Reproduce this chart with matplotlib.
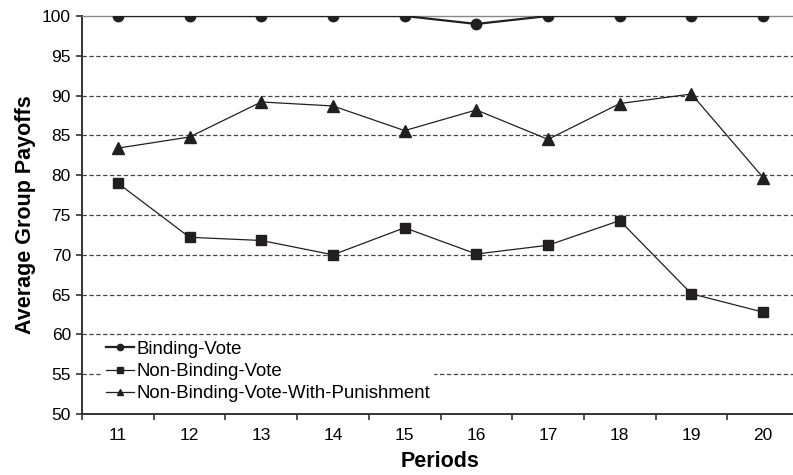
import numpy as np
import matplotlib
matplotlib.use('Agg')
import matplotlib.pyplot as plt

plt.rcParams['font.family'] = ['Liberation Sans', 'DejaVu Sans']

periods = [11, 12, 13, 14, 15, 16, 17, 18, 19, 20]
binding = [100, 100, 100, 100, 100, 99.0, 100, 100, 100, 100]
non_binding = [79.0, 72.2, 71.8, 70.0, 73.4, 70.1, 71.2, 74.3, 65.1, 62.8]
punishment = [83.4, 84.8, 89.2, 88.7, 85.6, 88.2, 84.5, 89.0, 90.2, 79.7]
yticks = [50, 55, 60, 65, 70, 75, 80, 85, 90, 95, 100]

ink = '#231f20'

fig = plt.figure(figsize=(7.93, 4.75), dpi=100)
ax = fig.add_axes([82 / 793, 1 - 414 / 475, 717 / 793, 398 / 475])

# dashed grid
for v in yticks[1:-1]:
    ax.axhline(v, color='#444444', lw=0.9, ls=(0, (3.5, 2)), zorder=1)

ax.plot(periods, binding, color=ink, lw=1.6, marker='o', ms=7.5, label='Binding-Vote', zorder=3)
ax.plot(periods, non_binding, color=ink, lw=0.9, marker='s', ms=7.5, label='Non-Binding-Vote', zorder=3)
ax.plot(periods, punishment, color=ink, lw=0.9, marker='^', ms=8, label='Non-Binding-Vote-With-Punishment', zorder=3)

ax.set_xlim(10.5, 20.5)
ax.set_ylim(50, 100)
ax.set_yticks(yticks)
ax.set_xticks(periods)
ax.set_xticks(np.arange(10.5, 21, 1), minor=True)
ax.tick_params(axis='x', which='major', length=0, labelsize=12.5, pad=10)
ax.tick_params(axis='x', which='minor', length=4, width=1.2, color='#333333')
ax.tick_params(axis='y', length=4, width=1.2, color='#333333', labelsize=12.5, pad=4)

ax.spines['right'].set_visible(False)
ax.spines['top'].set_color('#888888')
ax.spines['top'].set_linewidth(1.0)
for s in ['left', 'bottom']:
    ax.spines[s].set_color('#333333')
    ax.spines[s].set_linewidth(1.4)

ax.set_xlabel('Periods', fontsize=15.5, fontweight='bold', labelpad=6)
ax.set_ylabel('Average Group Payoffs', fontsize=15.5, fontweight='bold', labelpad=4)

leg = ax.legend(loc='lower left', bbox_to_anchor=(0.028, 0.02), frameon=True, fancybox=False,
                edgecolor='none', facecolor='white', framealpha=1, fontsize=13.4,
                handlelength=1.5, handletextpad=0.15, labelspacing=0.28, borderpad=0.2,
                borderaxespad=0.0, markerscale=0.6)

fig.savefig('out.png', dpi=100)
